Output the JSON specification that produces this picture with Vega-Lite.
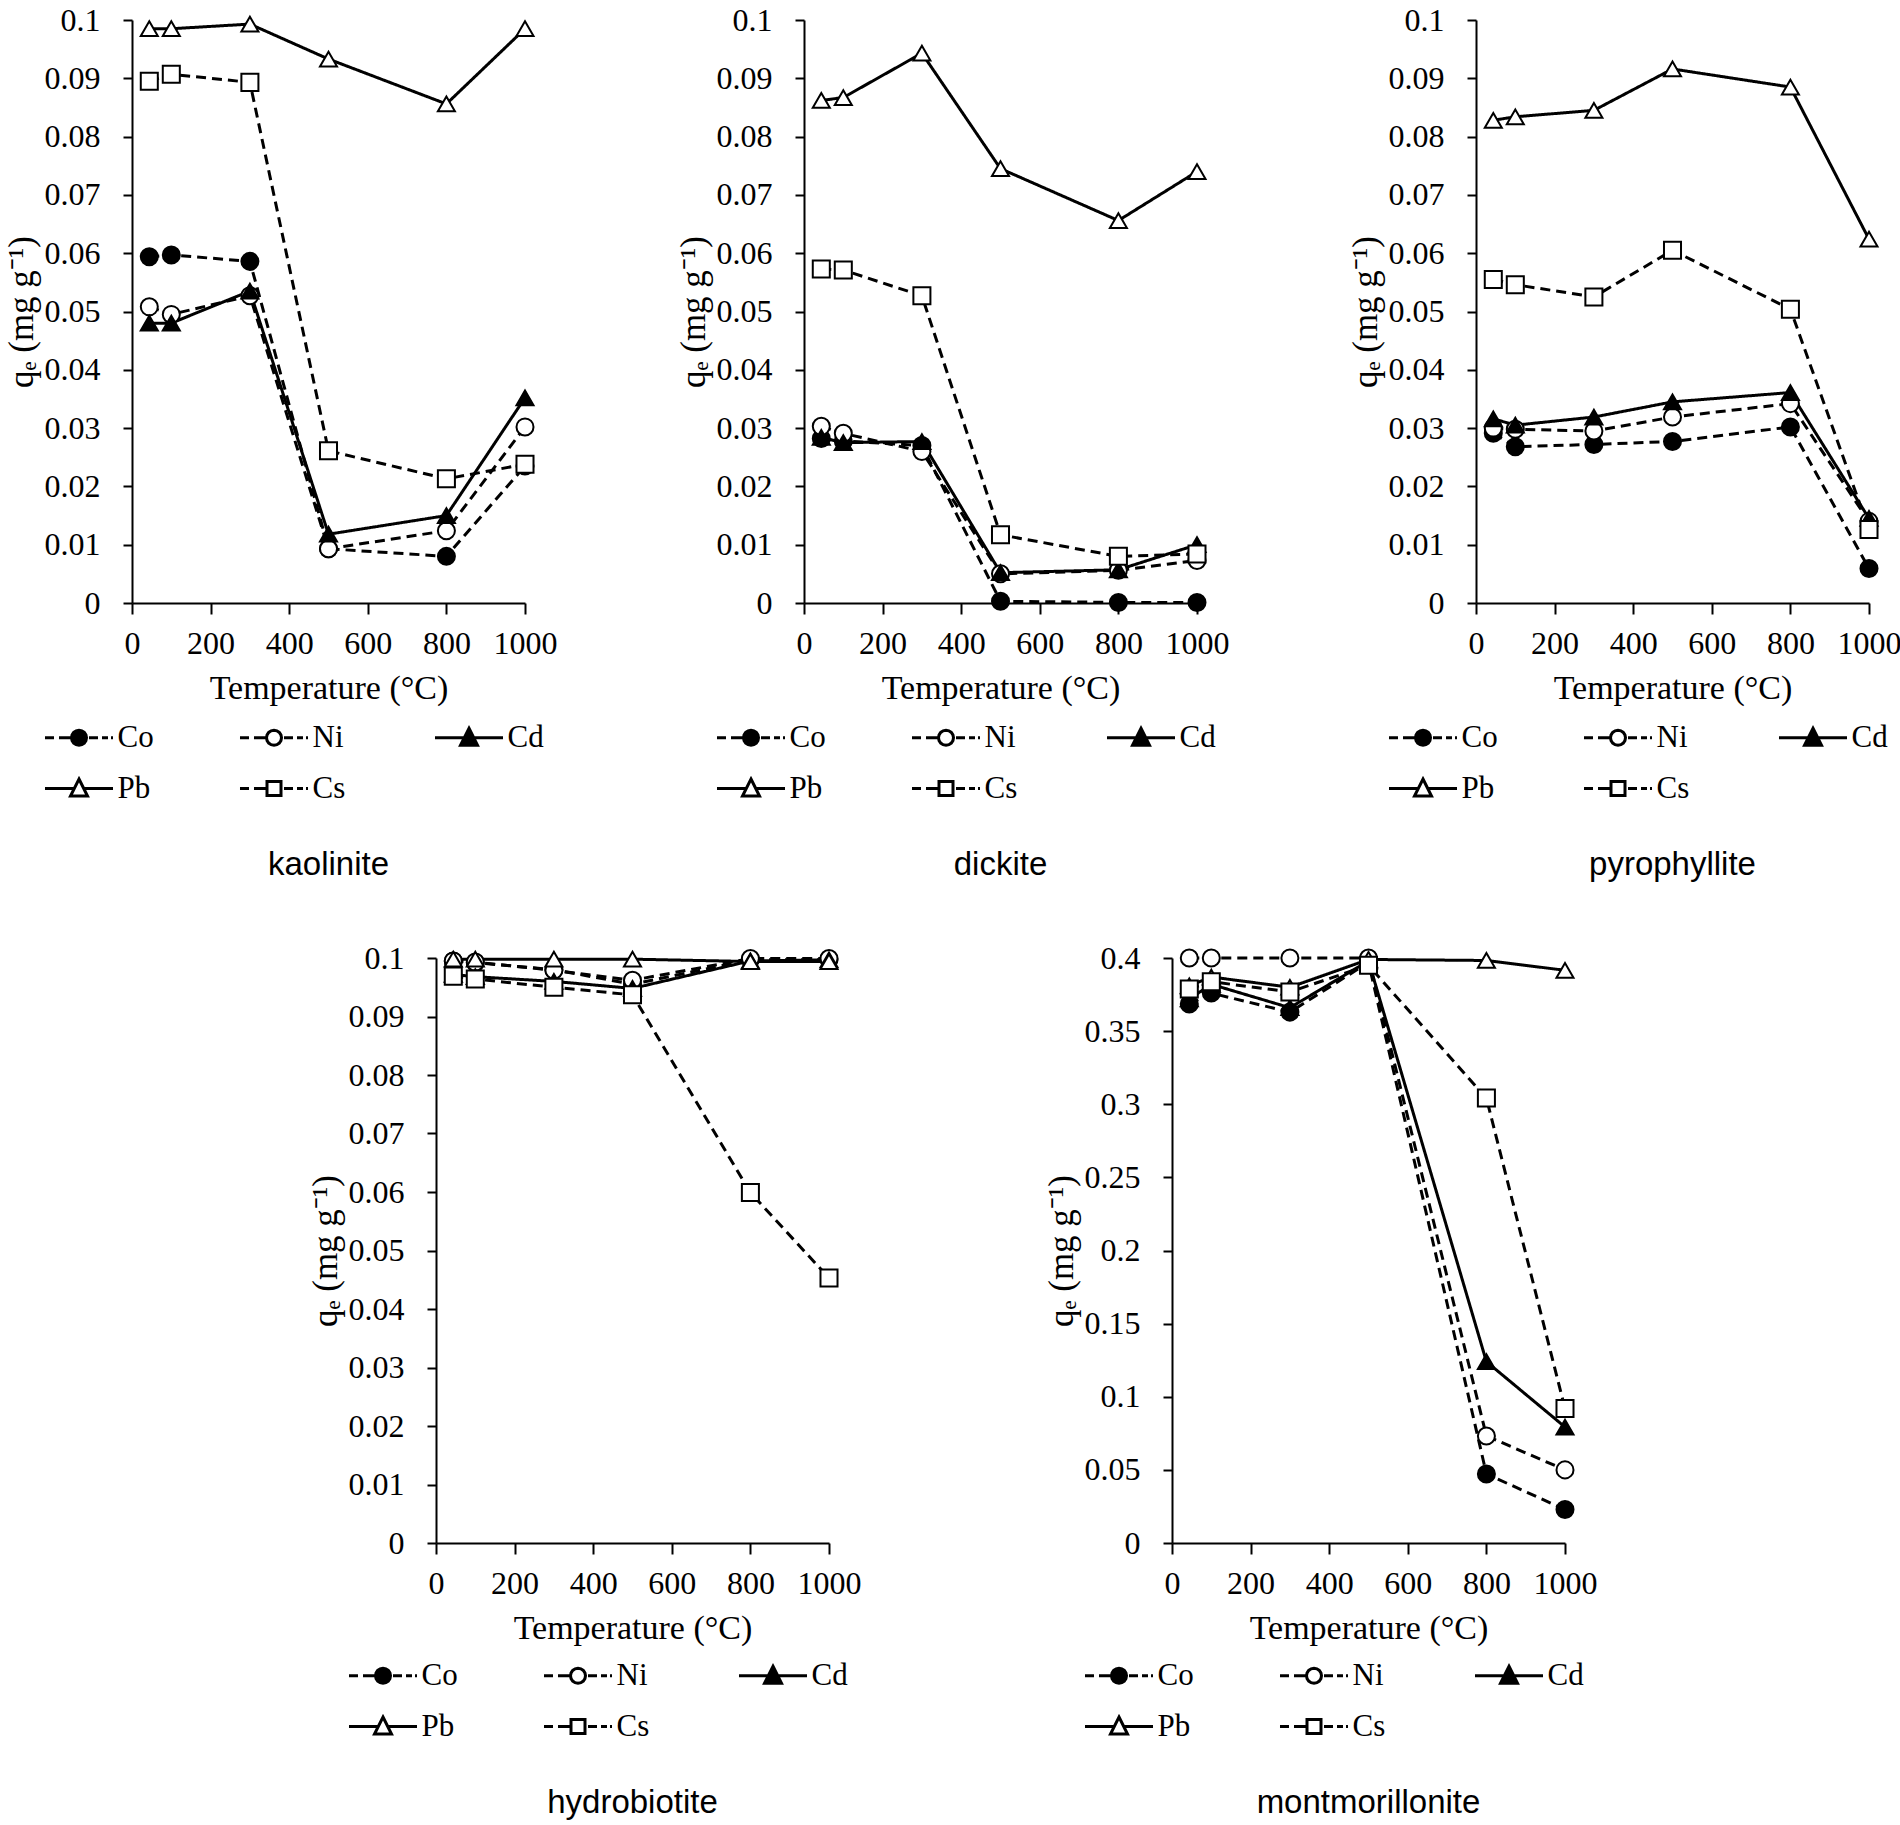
{
  "$schema": "https://vega.github.io/schema/vega-lite/v6.json",
  "background": "white",
  "padding": {"left": 4, "top": 4, "right": 0, "bottom": 0},
  "data": {
    "values": [
      {"mineral": "kaolinite", "metal": "Co", "temp": 44, "qe": 0.0594},
      {"mineral": "kaolinite", "metal": "Co", "temp": 100, "qe": 0.0597},
      {"mineral": "kaolinite", "metal": "Co", "temp": 300, "qe": 0.0586},
      {"mineral": "kaolinite", "metal": "Co", "temp": 500, "qe": 0.0093},
      {"mineral": "kaolinite", "metal": "Co", "temp": 800, "qe": 0.0080},
      {"mineral": "kaolinite", "metal": "Co", "temp": 1000, "qe": 0.0235},
      {"mineral": "kaolinite", "metal": "Ni", "temp": 44, "qe": 0.0508},
      {"mineral": "kaolinite", "metal": "Ni", "temp": 100, "qe": 0.0495},
      {"mineral": "kaolinite", "metal": "Ni", "temp": 300, "qe": 0.0527},
      {"mineral": "kaolinite", "metal": "Ni", "temp": 500, "qe": 0.0093},
      {"mineral": "kaolinite", "metal": "Ni", "temp": 800, "qe": 0.0124},
      {"mineral": "kaolinite", "metal": "Ni", "temp": 1000, "qe": 0.0302},
      {"mineral": "kaolinite", "metal": "Cd", "temp": 44, "qe": 0.0480},
      {"mineral": "kaolinite", "metal": "Cd", "temp": 100, "qe": 0.0480},
      {"mineral": "kaolinite", "metal": "Cd", "temp": 300, "qe": 0.0535},
      {"mineral": "kaolinite", "metal": "Cd", "temp": 500, "qe": 0.0118},
      {"mineral": "kaolinite", "metal": "Cd", "temp": 800, "qe": 0.0150},
      {"mineral": "kaolinite", "metal": "Cd", "temp": 1000, "qe": 0.0352},
      {"mineral": "kaolinite", "metal": "Pb", "temp": 44, "qe": 0.0985},
      {"mineral": "kaolinite", "metal": "Pb", "temp": 100, "qe": 0.0985},
      {"mineral": "kaolinite", "metal": "Pb", "temp": 300, "qe": 0.0993},
      {"mineral": "kaolinite", "metal": "Pb", "temp": 500, "qe": 0.0933},
      {"mineral": "kaolinite", "metal": "Pb", "temp": 800, "qe": 0.0856},
      {"mineral": "kaolinite", "metal": "Pb", "temp": 1000, "qe": 0.0985},
      {"mineral": "kaolinite", "metal": "Cs", "temp": 44, "qe": 0.0895},
      {"mineral": "kaolinite", "metal": "Cs", "temp": 100, "qe": 0.0907},
      {"mineral": "kaolinite", "metal": "Cs", "temp": 300, "qe": 0.0893},
      {"mineral": "kaolinite", "metal": "Cs", "temp": 500, "qe": 0.0261},
      {"mineral": "kaolinite", "metal": "Cs", "temp": 800, "qe": 0.0213},
      {"mineral": "kaolinite", "metal": "Cs", "temp": 1000, "qe": 0.0238},

      {"mineral": "dickite", "metal": "Co", "temp": 44, "qe": 0.0282},
      {"mineral": "dickite", "metal": "Co", "temp": 100, "qe": 0.0278},
      {"mineral": "dickite", "metal": "Co", "temp": 300, "qe": 0.0270},
      {"mineral": "dickite", "metal": "Co", "temp": 500, "qe": 0.0003},
      {"mineral": "dickite", "metal": "Co", "temp": 800, "qe": 0.0001},
      {"mineral": "dickite", "metal": "Co", "temp": 1000, "qe": 0.0001},
      {"mineral": "dickite", "metal": "Ni", "temp": 44, "qe": 0.0303},
      {"mineral": "dickite", "metal": "Ni", "temp": 100, "qe": 0.0291},
      {"mineral": "dickite", "metal": "Ni", "temp": 300, "qe": 0.0260},
      {"mineral": "dickite", "metal": "Ni", "temp": 500, "qe": 0.0050},
      {"mineral": "dickite", "metal": "Ni", "temp": 800, "qe": 0.0056},
      {"mineral": "dickite", "metal": "Ni", "temp": 1000, "qe": 0.0073},
      {"mineral": "dickite", "metal": "Cd", "temp": 44, "qe": 0.0284},
      {"mineral": "dickite", "metal": "Cd", "temp": 100, "qe": 0.0275},
      {"mineral": "dickite", "metal": "Cd", "temp": 300, "qe": 0.0277},
      {"mineral": "dickite", "metal": "Cd", "temp": 500, "qe": 0.0052},
      {"mineral": "dickite", "metal": "Cd", "temp": 800, "qe": 0.0057},
      {"mineral": "dickite", "metal": "Cd", "temp": 1000, "qe": 0.0100},
      {"mineral": "dickite", "metal": "Pb", "temp": 44, "qe": 0.0862},
      {"mineral": "dickite", "metal": "Pb", "temp": 100, "qe": 0.0867},
      {"mineral": "dickite", "metal": "Pb", "temp": 300, "qe": 0.0943},
      {"mineral": "dickite", "metal": "Pb", "temp": 500, "qe": 0.0745},
      {"mineral": "dickite", "metal": "Pb", "temp": 800, "qe": 0.0656},
      {"mineral": "dickite", "metal": "Pb", "temp": 1000, "qe": 0.0740},
      {"mineral": "dickite", "metal": "Cs", "temp": 44, "qe": 0.0573},
      {"mineral": "dickite", "metal": "Cs", "temp": 100, "qe": 0.0571},
      {"mineral": "dickite", "metal": "Cs", "temp": 300, "qe": 0.0527},
      {"mineral": "dickite", "metal": "Cs", "temp": 500, "qe": 0.0117},
      {"mineral": "dickite", "metal": "Cs", "temp": 800, "qe": 0.0080},
      {"mineral": "dickite", "metal": "Cs", "temp": 1000, "qe": 0.0084},

      {"mineral": "pyrophyllite", "metal": "Co", "temp": 44, "qe": 0.0291},
      {"mineral": "pyrophyllite", "metal": "Co", "temp": 100, "qe": 0.0268},
      {"mineral": "pyrophyllite", "metal": "Co", "temp": 300, "qe": 0.0272},
      {"mineral": "pyrophyllite", "metal": "Co", "temp": 500, "qe": 0.0277},
      {"mineral": "pyrophyllite", "metal": "Co", "temp": 800, "qe": 0.0302},
      {"mineral": "pyrophyllite", "metal": "Co", "temp": 1000, "qe": 0.0059},
      {"mineral": "pyrophyllite", "metal": "Ni", "temp": 44, "qe": 0.0300},
      {"mineral": "pyrophyllite", "metal": "Ni", "temp": 100, "qe": 0.0298},
      {"mineral": "pyrophyllite", "metal": "Ni", "temp": 300, "qe": 0.0295},
      {"mineral": "pyrophyllite", "metal": "Ni", "temp": 500, "qe": 0.0319},
      {"mineral": "pyrophyllite", "metal": "Ni", "temp": 800, "qe": 0.0342},
      {"mineral": "pyrophyllite", "metal": "Ni", "temp": 1000, "qe": 0.0140},
      {"mineral": "pyrophyllite", "metal": "Cd", "temp": 44, "qe": 0.0316},
      {"mineral": "pyrophyllite", "metal": "Cd", "temp": 100, "qe": 0.0305},
      {"mineral": "pyrophyllite", "metal": "Cd", "temp": 300, "qe": 0.0319},
      {"mineral": "pyrophyllite", "metal": "Cd", "temp": 500, "qe": 0.0345},
      {"mineral": "pyrophyllite", "metal": "Cd", "temp": 800, "qe": 0.0361},
      {"mineral": "pyrophyllite", "metal": "Cd", "temp": 1000, "qe": 0.0145},
      {"mineral": "pyrophyllite", "metal": "Pb", "temp": 44, "qe": 0.0828},
      {"mineral": "pyrophyllite", "metal": "Pb", "temp": 100, "qe": 0.0834},
      {"mineral": "pyrophyllite", "metal": "Pb", "temp": 300, "qe": 0.0845},
      {"mineral": "pyrophyllite", "metal": "Pb", "temp": 500, "qe": 0.0916},
      {"mineral": "pyrophyllite", "metal": "Pb", "temp": 800, "qe": 0.0885},
      {"mineral": "pyrophyllite", "metal": "Pb", "temp": 1000, "qe": 0.0624},
      {"mineral": "pyrophyllite", "metal": "Cs", "temp": 44, "qe": 0.0555},
      {"mineral": "pyrophyllite", "metal": "Cs", "temp": 100, "qe": 0.0546},
      {"mineral": "pyrophyllite", "metal": "Cs", "temp": 300, "qe": 0.0525},
      {"mineral": "pyrophyllite", "metal": "Cs", "temp": 500, "qe": 0.0605},
      {"mineral": "pyrophyllite", "metal": "Cs", "temp": 800, "qe": 0.0504},
      {"mineral": "pyrophyllite", "metal": "Cs", "temp": 1000, "qe": 0.0126},

      {"mineral": "hydrobiotite", "metal": "Co", "temp": 44, "qe": 0.0995},
      {"mineral": "hydrobiotite", "metal": "Co", "temp": 100, "qe": 0.0992},
      {"mineral": "hydrobiotite", "metal": "Co", "temp": 300, "qe": 0.0980},
      {"mineral": "hydrobiotite", "metal": "Co", "temp": 500, "qe": 0.0955},
      {"mineral": "hydrobiotite", "metal": "Co", "temp": 800, "qe": 0.0997},
      {"mineral": "hydrobiotite", "metal": "Co", "temp": 1000, "qe": 0.0997},
      {"mineral": "hydrobiotite", "metal": "Ni", "temp": 44, "qe": 0.0995},
      {"mineral": "hydrobiotite", "metal": "Ni", "temp": 100, "qe": 0.0993},
      {"mineral": "hydrobiotite", "metal": "Ni", "temp": 300, "qe": 0.0979},
      {"mineral": "hydrobiotite", "metal": "Ni", "temp": 500, "qe": 0.0962},
      {"mineral": "hydrobiotite", "metal": "Ni", "temp": 800, "qe": 0.0999},
      {"mineral": "hydrobiotite", "metal": "Ni", "temp": 1000, "qe": 0.0999},
      {"mineral": "hydrobiotite", "metal": "Cd", "temp": 44, "qe": 0.0972},
      {"mineral": "hydrobiotite", "metal": "Cd", "temp": 100, "qe": 0.0968},
      {"mineral": "hydrobiotite", "metal": "Cd", "temp": 300, "qe": 0.0960},
      {"mineral": "hydrobiotite", "metal": "Cd", "temp": 500, "qe": 0.0948},
      {"mineral": "hydrobiotite", "metal": "Cd", "temp": 800, "qe": 0.0995},
      {"mineral": "hydrobiotite", "metal": "Cd", "temp": 1000, "qe": 0.0997},
      {"mineral": "hydrobiotite", "metal": "Pb", "temp": 44, "qe": 0.0998},
      {"mineral": "hydrobiotite", "metal": "Pb", "temp": 100, "qe": 0.0998},
      {"mineral": "hydrobiotite", "metal": "Pb", "temp": 300, "qe": 0.0998},
      {"mineral": "hydrobiotite", "metal": "Pb", "temp": 500, "qe": 0.0998},
      {"mineral": "hydrobiotite", "metal": "Pb", "temp": 800, "qe": 0.0994},
      {"mineral": "hydrobiotite", "metal": "Pb", "temp": 1000, "qe": 0.0994},
      {"mineral": "hydrobiotite", "metal": "Cs", "temp": 44, "qe": 0.0969},
      {"mineral": "hydrobiotite", "metal": "Cs", "temp": 100, "qe": 0.0964},
      {"mineral": "hydrobiotite", "metal": "Cs", "temp": 300, "qe": 0.0950},
      {"mineral": "hydrobiotite", "metal": "Cs", "temp": 500, "qe": 0.0937},
      {"mineral": "hydrobiotite", "metal": "Cs", "temp": 800, "qe": 0.0599},
      {"mineral": "hydrobiotite", "metal": "Cs", "temp": 1000, "qe": 0.0453},

      {"mineral": "montmorillonite", "metal": "Co", "temp": 44, "qe": 0.3685},
      {"mineral": "montmorillonite", "metal": "Co", "temp": 100, "qe": 0.3760},
      {"mineral": "montmorillonite", "metal": "Co", "temp": 300, "qe": 0.3630},
      {"mineral": "montmorillonite", "metal": "Co", "temp": 500, "qe": 0.3970},
      {"mineral": "montmorillonite", "metal": "Co", "temp": 800, "qe": 0.0472},
      {"mineral": "montmorillonite", "metal": "Co", "temp": 1000, "qe": 0.0229},
      {"mineral": "montmorillonite", "metal": "Ni", "temp": 44, "qe": 0.4000},
      {"mineral": "montmorillonite", "metal": "Ni", "temp": 100, "qe": 0.4000},
      {"mineral": "montmorillonite", "metal": "Ni", "temp": 300, "qe": 0.4000},
      {"mineral": "montmorillonite", "metal": "Ni", "temp": 500, "qe": 0.4000},
      {"mineral": "montmorillonite", "metal": "Ni", "temp": 800, "qe": 0.0732},
      {"mineral": "montmorillonite", "metal": "Ni", "temp": 1000, "qe": 0.0500},
      {"mineral": "montmorillonite", "metal": "Cd", "temp": 44, "qe": 0.3720},
      {"mineral": "montmorillonite", "metal": "Cd", "temp": 100, "qe": 0.3820},
      {"mineral": "montmorillonite", "metal": "Cd", "temp": 300, "qe": 0.3660},
      {"mineral": "montmorillonite", "metal": "Cd", "temp": 500, "qe": 0.3980},
      {"mineral": "montmorillonite", "metal": "Cd", "temp": 800, "qe": 0.1240},
      {"mineral": "montmorillonite", "metal": "Cd", "temp": 1000, "qe": 0.0793},
      {"mineral": "montmorillonite", "metal": "Pb", "temp": 44, "qe": 0.3810},
      {"mineral": "montmorillonite", "metal": "Pb", "temp": 100, "qe": 0.3870},
      {"mineral": "montmorillonite", "metal": "Pb", "temp": 300, "qe": 0.3800},
      {"mineral": "montmorillonite", "metal": "Pb", "temp": 500, "qe": 0.3990},
      {"mineral": "montmorillonite", "metal": "Pb", "temp": 800, "qe": 0.3983},
      {"mineral": "montmorillonite", "metal": "Pb", "temp": 1000, "qe": 0.3916},
      {"mineral": "montmorillonite", "metal": "Cs", "temp": 44, "qe": 0.3788},
      {"mineral": "montmorillonite", "metal": "Cs", "temp": 100, "qe": 0.3838},
      {"mineral": "montmorillonite", "metal": "Cs", "temp": 300, "qe": 0.3768},
      {"mineral": "montmorillonite", "metal": "Cs", "temp": 500, "qe": 0.3950},
      {"mineral": "montmorillonite", "metal": "Cs", "temp": 800, "qe": 0.3042},
      {"mineral": "montmorillonite", "metal": "Cs", "temp": 1000, "qe": 0.0919}
    ]
  },
  "vconcat": [
    {
      "hconcat": [
        {
          "title": "kaolinite",
          "width": 393,
          "height": 583,
          "transform": [{"filter": "datum.mineral === 'kaolinite'"}],
          "encoding": {
            "x": {"field": "temp", "type": "quantitative", "scale": {"domain": [0, 1000], "nice": false}, "axis": {"values": [0, 200, 400, 600, 800, 1000], "format": "d", "title": "Temperature (°C)"}},
            "y": {"field": "qe", "type": "quantitative", "scale": {"domain": [0, 0.1], "nice": false}, "axis": {"values": [0, 0.01, 0.02, 0.03, 0.04, 0.05, 0.06, 0.07, 0.08, 0.09, 0.1], "format": "~g", "title": "qₑ (mg g⁻¹)"}}
          },
          "layer": [
            {
              "mark": {"type": "line", "color": "black", "strokeWidth": 3},
              "encoding": {"strokeDash": {"field": "metal", "type": "nominal", "scale": {"domain": ["Co", "Ni", "Cd", "Pb", "Cs"], "range": [[10, 6], [10, 6], [1, 0], [1, 0], [10, 6]]}, "legend": null}}
            },
            {
              "mark": {"type": "point", "filled": true, "stroke": "black", "strokeWidth": 2, "opacity": 1},
              "encoding": {
                "shape": {"field": "metal", "type": "nominal", "scale": {"domain": ["Co", "Ni", "Cd", "Pb", "Cs"], "range": ["circle", "circle", "triangle-up", "triangle-up", "square"]}, "legend": null},
                "fill": {"field": "metal", "type": "nominal", "scale": {"domain": ["Co", "Ni", "Cd", "Pb", "Cs"], "range": ["black", "white", "black", "white", "white"]}, "legend": null},
                "size": {"field": "metal", "type": "nominal", "scale": {"domain": ["Co", "Ni", "Cd", "Pb", "Cs"], "range": [290, 290, 330, 330, 256]}, "legend": null}
              }
            },
            {
              "transform": [{"filter": "false"}],
              "mark": {"type": "point", "filled": true, "strokeWidth": 3, "opacity": 1},
              "encoding": {
                "shape": {"field": "metal", "type": "nominal", "scale": {"domain": ["Co", "Ni", "Cd", "Pb", "Cs"], "range": [
                  "M-2.429,0L-1.786,0M-1.429,0L-0.536,0M0.714,0L1.357,0M1.643,0L2.071,0M2.286,0L2.429,0M0.536,0L0.4952,0.2051L0.379,0.379L0.2051,0.4952L0,0.536L-0.2051,0.4952L-0.379,0.379L-0.4952,0.2051L-0.536,0L-0.4952,-0.2051L-0.379,-0.379L-0.2051,-0.4952L0,-0.536L0.2051,-0.4952L0.379,-0.379L0.4952,-0.2051Z",
                  "M-2.429,0L-1.786,0M-1.429,0L-0.536,0M0.714,0L1.357,0M1.643,0L2.071,0M2.286,0L2.429,0M0.536,0L0.4952,0.2051L0.379,0.379L0.2051,0.4952L0,0.536L-0.2051,0.4952L-0.379,0.379L-0.4952,0.2051L-0.536,0L-0.4952,-0.2051L-0.379,-0.379L-0.2051,-0.4952L0,-0.536L0.2051,-0.4952L0.379,-0.379L0.4952,-0.2051Z",
                  "M-2.429,0L-0.339,0M0.339,0L2.429,0M0,-0.679L0.607,0.536L-0.607,0.536Z",
                  "M-2.429,0L-0.339,0M0.339,0L2.429,0M0,-0.679L0.607,0.536L-0.607,0.536Z",
                  "M-2.429,0L-1.786,0M-1.429,0L-0.5,0M0.714,0L1.357,0M1.643,0L2.071,0M2.286,0L2.429,0M-0.5,-0.5L0.5,-0.5L0.5,0.5L-0.5,0.5Z"
                ]}, "legend": {"title": null}},
                "fill": {"field": "metal", "type": "nominal", "scale": {"domain": ["Co", "Ni", "Cd", "Pb", "Cs"], "range": ["black", "white", "black", "white", "white"]}, "legend": {"title": null}},
                "stroke": {"field": "metal", "type": "nominal", "scale": {"domain": ["Co", "Ni", "Cd", "Pb", "Cs"], "range": ["black", "black", "black", "black", "black"]}, "legend": {"title": null}}
              }
            }
          ],
          "resolve": {"scale": {"shape": "independent", "fill": "independent", "stroke": "independent"}, "legend": {"shape": "independent", "fill": "independent", "stroke": "independent"}}
        },
        {
          "title": "dickite",
          "width": 393,
          "height": 583,
          "transform": [{"filter": "datum.mineral === 'dickite'"}],
          "encoding": {
            "x": {"field": "temp", "type": "quantitative", "scale": {"domain": [0, 1000], "nice": false}, "axis": {"values": [0, 200, 400, 600, 800, 1000], "format": "d", "title": "Temperature (°C)"}},
            "y": {"field": "qe", "type": "quantitative", "scale": {"domain": [0, 0.1], "nice": false}, "axis": {"values": [0, 0.01, 0.02, 0.03, 0.04, 0.05, 0.06, 0.07, 0.08, 0.09, 0.1], "format": "~g", "title": "qₑ (mg g⁻¹)"}}
          },
          "layer": [
            {
              "mark": {"type": "line", "color": "black", "strokeWidth": 3},
              "encoding": {"strokeDash": {"field": "metal", "type": "nominal", "scale": {"domain": ["Co", "Ni", "Cd", "Pb", "Cs"], "range": [[10, 6], [10, 6], [1, 0], [1, 0], [10, 6]]}, "legend": null}}
            },
            {
              "mark": {"type": "point", "filled": true, "stroke": "black", "strokeWidth": 2, "opacity": 1},
              "encoding": {
                "shape": {"field": "metal", "type": "nominal", "scale": {"domain": ["Co", "Ni", "Cd", "Pb", "Cs"], "range": ["circle", "circle", "triangle-up", "triangle-up", "square"]}, "legend": null},
                "fill": {"field": "metal", "type": "nominal", "scale": {"domain": ["Co", "Ni", "Cd", "Pb", "Cs"], "range": ["black", "white", "black", "white", "white"]}, "legend": null},
                "size": {"field": "metal", "type": "nominal", "scale": {"domain": ["Co", "Ni", "Cd", "Pb", "Cs"], "range": [290, 290, 330, 330, 256]}, "legend": null}
              }
            },
            {
              "transform": [{"filter": "false"}],
              "mark": {"type": "point", "filled": true, "strokeWidth": 3, "opacity": 1},
              "encoding": {
                "shape": {"field": "metal", "type": "nominal", "scale": {"domain": ["Co", "Ni", "Cd", "Pb", "Cs"], "range": [
                  "M-2.429,0L-1.786,0M-1.429,0L-0.536,0M0.714,0L1.357,0M1.643,0L2.071,0M2.286,0L2.429,0M0.536,0L0.4952,0.2051L0.379,0.379L0.2051,0.4952L0,0.536L-0.2051,0.4952L-0.379,0.379L-0.4952,0.2051L-0.536,0L-0.4952,-0.2051L-0.379,-0.379L-0.2051,-0.4952L0,-0.536L0.2051,-0.4952L0.379,-0.379L0.4952,-0.2051Z",
                  "M-2.429,0L-1.786,0M-1.429,0L-0.536,0M0.714,0L1.357,0M1.643,0L2.071,0M2.286,0L2.429,0M0.536,0L0.4952,0.2051L0.379,0.379L0.2051,0.4952L0,0.536L-0.2051,0.4952L-0.379,0.379L-0.4952,0.2051L-0.536,0L-0.4952,-0.2051L-0.379,-0.379L-0.2051,-0.4952L0,-0.536L0.2051,-0.4952L0.379,-0.379L0.4952,-0.2051Z",
                  "M-2.429,0L-0.339,0M0.339,0L2.429,0M0,-0.679L0.607,0.536L-0.607,0.536Z",
                  "M-2.429,0L-0.339,0M0.339,0L2.429,0M0,-0.679L0.607,0.536L-0.607,0.536Z",
                  "M-2.429,0L-1.786,0M-1.429,0L-0.5,0M0.714,0L1.357,0M1.643,0L2.071,0M2.286,0L2.429,0M-0.5,-0.5L0.5,-0.5L0.5,0.5L-0.5,0.5Z"
                ]}, "legend": {"title": null}},
                "fill": {"field": "metal", "type": "nominal", "scale": {"domain": ["Co", "Ni", "Cd", "Pb", "Cs"], "range": ["black", "white", "black", "white", "white"]}, "legend": {"title": null}},
                "stroke": {"field": "metal", "type": "nominal", "scale": {"domain": ["Co", "Ni", "Cd", "Pb", "Cs"], "range": ["black", "black", "black", "black", "black"]}, "legend": {"title": null}}
              }
            }
          ],
          "resolve": {"scale": {"shape": "independent", "fill": "independent", "stroke": "independent"}, "legend": {"shape": "independent", "fill": "independent", "stroke": "independent"}}
        },
        {
          "title": "pyrophyllite",
          "width": 393,
          "height": 583,
          "transform": [{"filter": "datum.mineral === 'pyrophyllite'"}],
          "encoding": {
            "x": {"field": "temp", "type": "quantitative", "scale": {"domain": [0, 1000], "nice": false}, "axis": {"values": [0, 200, 400, 600, 800, 1000], "format": "d", "title": "Temperature (°C)"}},
            "y": {"field": "qe", "type": "quantitative", "scale": {"domain": [0, 0.1], "nice": false}, "axis": {"values": [0, 0.01, 0.02, 0.03, 0.04, 0.05, 0.06, 0.07, 0.08, 0.09, 0.1], "format": "~g", "title": "qₑ (mg g⁻¹)"}}
          },
          "layer": [
            {
              "mark": {"type": "line", "color": "black", "strokeWidth": 3},
              "encoding": {"strokeDash": {"field": "metal", "type": "nominal", "scale": {"domain": ["Co", "Ni", "Cd", "Pb", "Cs"], "range": [[10, 6], [10, 6], [1, 0], [1, 0], [10, 6]]}, "legend": null}}
            },
            {
              "mark": {"type": "point", "filled": true, "stroke": "black", "strokeWidth": 2, "opacity": 1},
              "encoding": {
                "shape": {"field": "metal", "type": "nominal", "scale": {"domain": ["Co", "Ni", "Cd", "Pb", "Cs"], "range": ["circle", "circle", "triangle-up", "triangle-up", "square"]}, "legend": null},
                "fill": {"field": "metal", "type": "nominal", "scale": {"domain": ["Co", "Ni", "Cd", "Pb", "Cs"], "range": ["black", "white", "black", "white", "white"]}, "legend": null},
                "size": {"field": "metal", "type": "nominal", "scale": {"domain": ["Co", "Ni", "Cd", "Pb", "Cs"], "range": [290, 290, 330, 330, 256]}, "legend": null}
              }
            },
            {
              "transform": [{"filter": "false"}],
              "mark": {"type": "point", "filled": true, "strokeWidth": 3, "opacity": 1},
              "encoding": {
                "shape": {"field": "metal", "type": "nominal", "scale": {"domain": ["Co", "Ni", "Cd", "Pb", "Cs"], "range": [
                  "M-2.429,0L-1.786,0M-1.429,0L-0.536,0M0.714,0L1.357,0M1.643,0L2.071,0M2.286,0L2.429,0M0.536,0L0.4952,0.2051L0.379,0.379L0.2051,0.4952L0,0.536L-0.2051,0.4952L-0.379,0.379L-0.4952,0.2051L-0.536,0L-0.4952,-0.2051L-0.379,-0.379L-0.2051,-0.4952L0,-0.536L0.2051,-0.4952L0.379,-0.379L0.4952,-0.2051Z",
                  "M-2.429,0L-1.786,0M-1.429,0L-0.536,0M0.714,0L1.357,0M1.643,0L2.071,0M2.286,0L2.429,0M0.536,0L0.4952,0.2051L0.379,0.379L0.2051,0.4952L0,0.536L-0.2051,0.4952L-0.379,0.379L-0.4952,0.2051L-0.536,0L-0.4952,-0.2051L-0.379,-0.379L-0.2051,-0.4952L0,-0.536L0.2051,-0.4952L0.379,-0.379L0.4952,-0.2051Z",
                  "M-2.429,0L-0.339,0M0.339,0L2.429,0M0,-0.679L0.607,0.536L-0.607,0.536Z",
                  "M-2.429,0L-0.339,0M0.339,0L2.429,0M0,-0.679L0.607,0.536L-0.607,0.536Z",
                  "M-2.429,0L-1.786,0M-1.429,0L-0.5,0M0.714,0L1.357,0M1.643,0L2.071,0M2.286,0L2.429,0M-0.5,-0.5L0.5,-0.5L0.5,0.5L-0.5,0.5Z"
                ]}, "legend": {"title": null}},
                "fill": {"field": "metal", "type": "nominal", "scale": {"domain": ["Co", "Ni", "Cd", "Pb", "Cs"], "range": ["black", "white", "black", "white", "white"]}, "legend": {"title": null}},
                "stroke": {"field": "metal", "type": "nominal", "scale": {"domain": ["Co", "Ni", "Cd", "Pb", "Cs"], "range": ["black", "black", "black", "black", "black"]}, "legend": {"title": null}}
              }
            }
          ],
          "resolve": {"scale": {"shape": "independent", "fill": "independent", "stroke": "independent"}, "legend": {"shape": "independent", "fill": "independent", "stroke": "independent"}}
        }
      ],
      "spacing": 279,
      "bounds": "flush"
    },
    {
      "hconcat": [
        {
          "title": "hydrobiotite",
          "width": 393,
          "height": 585,
          "transform": [{"filter": "datum.mineral === 'hydrobiotite'"}],
          "encoding": {
            "x": {"field": "temp", "type": "quantitative", "scale": {"domain": [0, 1000], "nice": false}, "axis": {"values": [0, 200, 400, 600, 800, 1000], "format": "d", "title": "Temperature (°C)"}},
            "y": {"field": "qe", "type": "quantitative", "scale": {"domain": [0, 0.1], "nice": false}, "axis": {"values": [0, 0.01, 0.02, 0.03, 0.04, 0.05, 0.06, 0.07, 0.08, 0.09, 0.1], "format": "~g", "title": "qₑ (mg g⁻¹)"}}
          },
          "layer": [
            {
              "mark": {"type": "line", "color": "black", "strokeWidth": 3},
              "encoding": {"strokeDash": {"field": "metal", "type": "nominal", "scale": {"domain": ["Co", "Ni", "Cd", "Pb", "Cs"], "range": [[10, 6], [10, 6], [1, 0], [1, 0], [10, 6]]}, "legend": null}}
            },
            {
              "mark": {"type": "point", "filled": true, "stroke": "black", "strokeWidth": 2, "opacity": 1},
              "encoding": {
                "shape": {"field": "metal", "type": "nominal", "scale": {"domain": ["Co", "Ni", "Cd", "Pb", "Cs"], "range": ["circle", "circle", "triangle-up", "triangle-up", "square"]}, "legend": null},
                "fill": {"field": "metal", "type": "nominal", "scale": {"domain": ["Co", "Ni", "Cd", "Pb", "Cs"], "range": ["black", "white", "black", "white", "white"]}, "legend": null},
                "size": {"field": "metal", "type": "nominal", "scale": {"domain": ["Co", "Ni", "Cd", "Pb", "Cs"], "range": [290, 290, 330, 330, 256]}, "legend": null}
              }
            },
            {
              "transform": [{"filter": "false"}],
              "mark": {"type": "point", "filled": true, "strokeWidth": 3, "opacity": 1},
              "encoding": {
                "shape": {"field": "metal", "type": "nominal", "scale": {"domain": ["Co", "Ni", "Cd", "Pb", "Cs"], "range": [
                  "M-2.429,0L-1.786,0M-1.429,0L-0.536,0M0.714,0L1.357,0M1.643,0L2.071,0M2.286,0L2.429,0M0.536,0L0.4952,0.2051L0.379,0.379L0.2051,0.4952L0,0.536L-0.2051,0.4952L-0.379,0.379L-0.4952,0.2051L-0.536,0L-0.4952,-0.2051L-0.379,-0.379L-0.2051,-0.4952L0,-0.536L0.2051,-0.4952L0.379,-0.379L0.4952,-0.2051Z",
                  "M-2.429,0L-1.786,0M-1.429,0L-0.536,0M0.714,0L1.357,0M1.643,0L2.071,0M2.286,0L2.429,0M0.536,0L0.4952,0.2051L0.379,0.379L0.2051,0.4952L0,0.536L-0.2051,0.4952L-0.379,0.379L-0.4952,0.2051L-0.536,0L-0.4952,-0.2051L-0.379,-0.379L-0.2051,-0.4952L0,-0.536L0.2051,-0.4952L0.379,-0.379L0.4952,-0.2051Z",
                  "M-2.429,0L-0.339,0M0.339,0L2.429,0M0,-0.679L0.607,0.536L-0.607,0.536Z",
                  "M-2.429,0L-0.339,0M0.339,0L2.429,0M0,-0.679L0.607,0.536L-0.607,0.536Z",
                  "M-2.429,0L-1.786,0M-1.429,0L-0.5,0M0.714,0L1.357,0M1.643,0L2.071,0M2.286,0L2.429,0M-0.5,-0.5L0.5,-0.5L0.5,0.5L-0.5,0.5Z"
                ]}, "legend": {"title": null}},
                "fill": {"field": "metal", "type": "nominal", "scale": {"domain": ["Co", "Ni", "Cd", "Pb", "Cs"], "range": ["black", "white", "black", "white", "white"]}, "legend": {"title": null}},
                "stroke": {"field": "metal", "type": "nominal", "scale": {"domain": ["Co", "Ni", "Cd", "Pb", "Cs"], "range": ["black", "black", "black", "black", "black"]}, "legend": {"title": null}}
              }
            }
          ],
          "resolve": {"scale": {"shape": "independent", "fill": "independent", "stroke": "independent"}, "legend": {"shape": "independent", "fill": "independent", "stroke": "independent"}}
        },
        {
          "title": "montmorillonite",
          "width": 393,
          "height": 585,
          "transform": [{"filter": "datum.mineral === 'montmorillonite'"}],
          "encoding": {
            "x": {"field": "temp", "type": "quantitative", "scale": {"domain": [0, 1000], "nice": false}, "axis": {"values": [0, 200, 400, 600, 800, 1000], "format": "d", "title": "Temperature (°C)"}},
            "y": {"field": "qe", "type": "quantitative", "scale": {"domain": [0, 0.4], "nice": false}, "axis": {"values": [0, 0.05, 0.1, 0.15, 0.2, 0.25, 0.3, 0.35, 0.4], "format": "~g", "title": "qₑ (mg g⁻¹)"}}
          },
          "layer": [
            {
              "mark": {"type": "line", "color": "black", "strokeWidth": 3},
              "encoding": {"strokeDash": {"field": "metal", "type": "nominal", "scale": {"domain": ["Co", "Ni", "Cd", "Pb", "Cs"], "range": [[10, 6], [10, 6], [1, 0], [1, 0], [10, 6]]}, "legend": null}}
            },
            {
              "mark": {"type": "point", "filled": true, "stroke": "black", "strokeWidth": 2, "opacity": 1},
              "encoding": {
                "shape": {"field": "metal", "type": "nominal", "scale": {"domain": ["Co", "Ni", "Cd", "Pb", "Cs"], "range": ["circle", "circle", "triangle-up", "triangle-up", "square"]}, "legend": null},
                "fill": {"field": "metal", "type": "nominal", "scale": {"domain": ["Co", "Ni", "Cd", "Pb", "Cs"], "range": ["black", "white", "black", "white", "white"]}, "legend": null},
                "size": {"field": "metal", "type": "nominal", "scale": {"domain": ["Co", "Ni", "Cd", "Pb", "Cs"], "range": [290, 290, 330, 330, 256]}, "legend": null}
              }
            },
            {
              "transform": [{"filter": "false"}],
              "mark": {"type": "point", "filled": true, "strokeWidth": 3, "opacity": 1},
              "encoding": {
                "shape": {"field": "metal", "type": "nominal", "scale": {"domain": ["Co", "Ni", "Cd", "Pb", "Cs"], "range": [
                  "M-2.429,0L-1.786,0M-1.429,0L-0.536,0M0.714,0L1.357,0M1.643,0L2.071,0M2.286,0L2.429,0M0.536,0L0.4952,0.2051L0.379,0.379L0.2051,0.4952L0,0.536L-0.2051,0.4952L-0.379,0.379L-0.4952,0.2051L-0.536,0L-0.4952,-0.2051L-0.379,-0.379L-0.2051,-0.4952L0,-0.536L0.2051,-0.4952L0.379,-0.379L0.4952,-0.2051Z",
                  "M-2.429,0L-1.786,0M-1.429,0L-0.536,0M0.714,0L1.357,0M1.643,0L2.071,0M2.286,0L2.429,0M0.536,0L0.4952,0.2051L0.379,0.379L0.2051,0.4952L0,0.536L-0.2051,0.4952L-0.379,0.379L-0.4952,0.2051L-0.536,0L-0.4952,-0.2051L-0.379,-0.379L-0.2051,-0.4952L0,-0.536L0.2051,-0.4952L0.379,-0.379L0.4952,-0.2051Z",
                  "M-2.429,0L-0.339,0M0.339,0L2.429,0M0,-0.679L0.607,0.536L-0.607,0.536Z",
                  "M-2.429,0L-0.339,0M0.339,0L2.429,0M0,-0.679L0.607,0.536L-0.607,0.536Z",
                  "M-2.429,0L-1.786,0M-1.429,0L-0.5,0M0.714,0L1.357,0M1.643,0L2.071,0M2.286,0L2.429,0M-0.5,-0.5L0.5,-0.5L0.5,0.5L-0.5,0.5Z"
                ]}, "legend": {"title": null}},
                "fill": {"field": "metal", "type": "nominal", "scale": {"domain": ["Co", "Ni", "Cd", "Pb", "Cs"], "range": ["black", "white", "black", "white", "white"]}, "legend": {"title": null}},
                "stroke": {"field": "metal", "type": "nominal", "scale": {"domain": ["Co", "Ni", "Cd", "Pb", "Cs"], "range": ["black", "black", "black", "black", "black"]}, "legend": {"title": null}}
              }
            }
          ],
          "resolve": {"scale": {"shape": "independent", "fill": "independent", "stroke": "independent"}, "legend": {"shape": "independent", "fill": "independent", "stroke": "independent"}}
        }
      ],
      "spacing": 343,
      "bounds": "flush"
    }
  ],
  "spacing": 60,
  "center": true,
  "config": {
    "view": {"stroke": null},
    "axis": {
      "grid": false,
      "domainColor": "black",
      "domainWidth": 2,
      "tickColor": "black",
      "tickWidth": 2,
      "labelColor": "black",
      "labelFont": "Liberation Serif",
      "labelFontSize": 32,
      "labelOverlap": false,
      "titleFont": "Liberation Serif",
      "titleFontSize": 34,
      "titleFontWeight": "normal",
      "titleColor": "black"
    },
    "axisX": {"tickSize": 11, "labelPadding": 14, "titlePadding": 12, "labelFlush": false},
    "axisY": {"tickSize": 9, "labelPadding": 23, "titlePadding": 5, "titleFontSize": 35},
    "legend": {
      "orient": "none",
      "legendX": -87,
      "legendY": 702,
      "columns": 3,
      "direction": "horizontal",
      "gridAlign": "all",
      "columnPadding": 79,
      "rowPadding": 19,
      "symbolSize": 784,
      "symbolOffset": 18.5,
      "symbolStrokeWidth": 3,
      "symbolStrokeColor": "black",
      "labelOffset": 23,
      "labelFont": "Liberation Serif",
      "labelFontSize": 31,
      "labelColor": "black",
      "padding": 0
    },
    "title": {
      "orient": "bottom",
      "anchor": "middle",
      "frame": "group",
      "font": "Liberation Sans",
      "fontSize": 33,
      "fontWeight": "normal",
      "color": "black",
      "offset": 45
    }
  }
}
